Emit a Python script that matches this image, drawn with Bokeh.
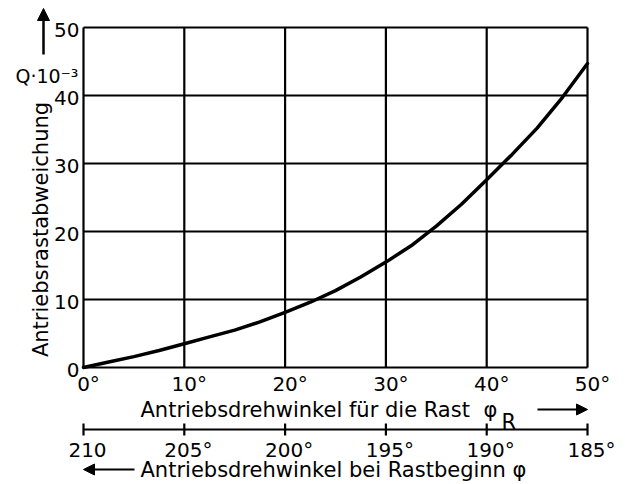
import math
from bokeh.plotting import figure
from bokeh.models import Range1d, Arrow, NormalHead
from bokeh.core.properties import value
from bokeh.embed import file_html
from bokeh.resources import INLINE

# ---- data ----
phi_r = [0, 2.5, 5, 7.5, 10, 12.5, 15, 17.5, 20, 22.5, 25, 27.5, 30,
         32.5, 35, 37.5, 40, 42.5, 45, 47.5, 50]
q_e3 = [0, 0.8, 1.6, 2.5, 3.5, 4.5, 5.5, 6.7, 8.1, 9.6, 11.3, 13.3, 15.5,
        17.9, 20.8, 24.0, 27.6, 31.3, 35.2, 39.7, 44.7]

x_ticks = [0, 10, 20, 30, 40, 50]
x_tick_labels = ["0°", "10°", "20°", "30°", "40°", "50°"]
y_ticks = [0, 10, 20, 30, 40, 50]
y_tick_labels = ["0", "10", "20", "30", "40", "50"]
phi_ticks = [210, 205, 200, 195, 190, 185]
phi_tick_labels = ["210", "205°", "200°", "195°", "190°", "185°"]

x_title = "Antriebsdrehwinkel für die Rast"
phi2_title = "Antriebsdrehwinkel bei Rastbeginn φ"
y_title = "Antriebsrastabweichung"
y_unit = "Q·10⁻³"

# ---- layout (canvas pixels) ----
W, H = 625, 484
L, R, T, B = 83, 587, 27, 367          # plot area inside canvas
X0, X1, Y0, Y1 = 0, 50, 0, 50
sx = (R - L) / (X1 - X0)
sy = (B - T) / (Y1 - Y0)
def dx(px):  # canvas px -> data x
    return X0 + (px - L) / sx
def dy(py):  # canvas px (from top) -> data y
    return Y0 + (B - py) / sy

FONT = value("DejaVu Sans")
TICK_FS = "20px"
TITLE_FS = "21px"

p = figure(width=W, height=H, output_backend="svg", toolbar_location=None,
           x_range=Range1d(dx(0), dx(W)), y_range=Range1d(dy(H), dy(0)),
           min_border=0, min_border_left=0, min_border_right=0,
           min_border_top=0, min_border_bottom=0)
p.axis.visible = False
p.grid.visible = False
p.outline_line_color = None
p.background_fill_color = "white"
p.border_fill_color = "white"

# secondary scale: phi = 210 at phi_R = 0, phi = 185 at phi_R = 50
def phi_of(x):
    return phi_ticks[0] + (phi_ticks[-1] - phi_ticks[0]) * (x - X0) / (X1 - X0)
p.extra_x_ranges = {"phi": Range1d(phi_of(dx(0)), phi_of(dx(W)))}

# ---- grid & frame ----
p.segment(x0=x_ticks, y0=[Y0] * len(x_ticks), x1=x_ticks, y1=[Y1] * len(x_ticks),
          line_color="black", line_width=2.2)
p.segment(x0=[X0] * len(y_ticks), y0=y_ticks, x1=[X1] * len(y_ticks), y1=y_ticks,
          line_color="black", line_width=2.2)

# ---- curve ----
p.line(phi_r, q_e3, line_color="black", line_width=3.5, line_join="round",
       line_cap="round")

# ---- y tick labels ----
p.text(x=[dx(L - 4)] * len(y_ticks), y=y_ticks, text=y_tick_labels,
       text_font=FONT, text_font_size=TICK_FS, text_align="right",
       text_baseline="middle", text_color="black", y_offset=2)

# ---- primary x tick labels ----
p.text(x=x_ticks, y=[dy(383)] * len(x_ticks), text=x_tick_labels,
       text_font=FONT, text_font_size=TICK_FS, text_align="center",
       text_baseline="middle", text_color="black", x_offset=5)

# ---- primary x title with phi_R and arrow ----
p.text(x=[dx(140)], y=[dy(409)], text=[x_title], text_font=FONT,
       text_font_size=TITLE_FS, text_align="left", text_baseline="middle",
       text_color="black")
p.text(x=[dx(483)], y=[dy(409)], text=["φ"], text_font=FONT,
       text_font_size=TITLE_FS, text_align="left", text_baseline="middle",
       text_color="black")
p.text(x=[dx(501)], y=[dy(421)], text=["R"], text_font=FONT,
       text_font_size=TITLE_FS, text_align="left", text_baseline="middle",
       text_color="black")
p.add_layout(Arrow(end=NormalHead(size=11, fill_color="black", line_color="black"),
                   x_start=dx(537), y_start=dy(409), x_end=X1, y_end=dy(409),
                   line_width=2, line_color="black"))

# ---- secondary axis ----
ax_y = dy(429)
p.segment(x0=[phi_ticks[0]], y0=[ax_y], x1=[phi_ticks[-1]], y1=[ax_y],
          x_range_name="phi", line_color="black", line_width=2.2)
p.segment(x0=phi_ticks, y0=[dy(423)] * len(phi_ticks), x1=phi_ticks,
          y1=[dy(435)] * len(phi_ticks), x_range_name="phi",
          line_color="black", line_width=2.2)
p.text(x=phi_ticks, y=[dy(449)] * len(phi_ticks), text=phi_tick_labels,
       x_range_name="phi", text_font=FONT, text_font_size=TICK_FS,
       text_align="center", text_baseline="middle", text_color="black",
       x_offset=4)
p.text(x=[dx(140)], y=[dy(469)], text=[phi2_title], text_font=FONT,
       text_font_size=TITLE_FS, text_align="left", text_baseline="middle",
       text_color="black")
p.add_layout(Arrow(end=NormalHead(size=11, fill_color="black", line_color="black"),
                   x_start=dx(134), y_start=dy(469), x_end=X0, y_end=dy(469),
                   line_width=2, line_color="black"))

# ---- y title, unit and arrow ----
p.text(x=[dx(40)], y=[dy(229)], text=[y_title], text_font=FONT,
       text_font_size=TITLE_FS, text_align="center", text_baseline="middle",
       angle=math.pi / 2, text_color="black")
p.text(x=[dx(15)], y=[dy(75)], text=[y_unit], text_font=FONT,
       text_font_size="19px", text_align="left", text_baseline="middle",
       text_color="black")
p.add_layout(Arrow(end=NormalHead(size=12, fill_color="black", line_color="black"),
                   x_start=dx(43), y_start=dy(54), x_end=dx(43), y_end=dy(8),
                   line_width=2.5, line_color="black"))

open("out.html", "w").write(file_html(p, INLINE))
